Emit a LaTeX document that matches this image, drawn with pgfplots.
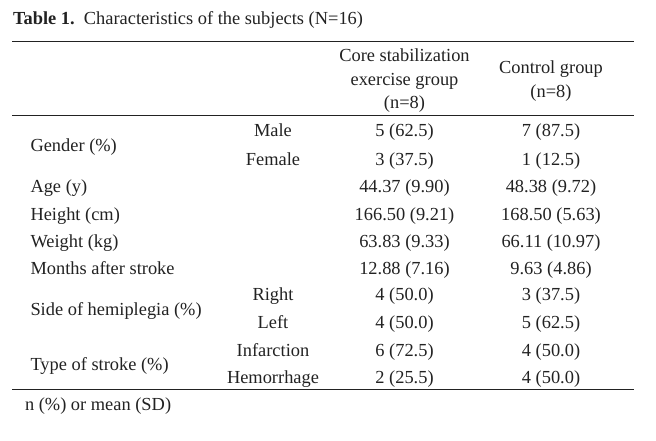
\documentclass[border=0pt]{standalone}
\usepackage{fontspec}
\setmainfont{Liberation Serif}
\usepackage{pgfplots}
\pgfplotsset{compat=1.18}
\definecolor{ink}{HTML}{222222}
\begin{document}
\fontsize{18.4bp}{22bp}\selectfont
\begin{tikzpicture}
\begin{axis}[
  hide axis, scale only axis, width=656bp, height=441bp,
  xmin=0, xmax=656, ymin=0, ymax=441, y dir=reverse, clip=false,
]
\path[fill=white] (axis cs:0,0) rectangle (axis cs:656,441);
\tikzset{every node/.style={inner sep=0pt, outer sep=0pt, text=ink}}
% title
\node[anchor=base west] at (axis cs:13,25) {\textbf{Table 1.}\hspace{0.5em}Characteristics of the subjects (N=16)};
% rules
\draw[ink, line width=1.1bp] (axis cs:12,41.7) -- (axis cs:634,41.7);
\draw[ink, line width=1.1bp] (axis cs:12,115.7) -- (axis cs:634,115.7);
\draw[ink, line width=1.1bp] (axis cs:12,389.3) -- (axis cs:634,389.3);
% header
\node[anchor=base] at (axis cs:404.5,62) {Core stabilization};
\node[anchor=base] at (axis cs:404.5,86) {exercise group};
\node[anchor=base] at (axis cs:404.5,108) {(n=8)};
\node[anchor=base] at (axis cs:551,74) {Control group};
\node[anchor=base] at (axis cs:551,97) {(n=8)};
% left labels
\node[anchor=base west] at (axis cs:30.5,151) {Gender (\%)};
\node[anchor=base west] at (axis cs:30.5,192.7) {Age (y)};
\node[anchor=base west] at (axis cs:30.5,220) {Height (cm)};
\node[anchor=base west] at (axis cs:30.5,247) {Weight (kg)};
\node[anchor=base west] at (axis cs:30.5,274) {Months after stroke};
\node[anchor=base west] at (axis cs:30.5,315) {Side of hemiplegia (\%)};
\node[anchor=base west] at (axis cs:30.5,370) {Type of stroke (\%)};
% sub labels
\node[anchor=base] at (axis cs:273,136.7) {Male};
\node[anchor=base] at (axis cs:273,165) {Female};
\node[anchor=base] at (axis cs:273,300.5) {Right};
\node[anchor=base] at (axis cs:273,328) {Left};
\node[anchor=base] at (axis cs:273,356) {Infarction};
\node[anchor=base] at (axis cs:273,383) {Hemorrhage};
% column 1
\node[anchor=base] at (axis cs:404.5,136.7) {5 (62.5)};
\node[anchor=base] at (axis cs:404.5,165) {3 (37.5)};
\node[anchor=base] at (axis cs:404.5,192.7) {44.37 (9.90)};
\node[anchor=base] at (axis cs:404.5,220) {166.50 (9.21)};
\node[anchor=base] at (axis cs:404.5,247) {63.83 (9.33)};
\node[anchor=base] at (axis cs:404.5,274) {12.88 (7.16)};
\node[anchor=base] at (axis cs:404.5,300.5) {4 (50.0)};
\node[anchor=base] at (axis cs:404.5,328) {4 (50.0)};
\node[anchor=base] at (axis cs:404.5,356) {6 (72.5)};
\node[anchor=base] at (axis cs:404.5,383) {2 (25.5)};
% column 2
\node[anchor=base] at (axis cs:551,136.7) {7 (87.5)};
\node[anchor=base] at (axis cs:551,165) {1 (12.5)};
\node[anchor=base] at (axis cs:551,192.7) {48.38 (9.72)};
\node[anchor=base] at (axis cs:551,220) {168.50 (5.63)};
\node[anchor=base] at (axis cs:551,247) {66.11 (10.97)};
\node[anchor=base] at (axis cs:551,274) {9.63 (4.86)};
\node[anchor=base] at (axis cs:551,300.5) {3 (37.5)};
\node[anchor=base] at (axis cs:551,328) {5 (62.5)};
\node[anchor=base] at (axis cs:551,356) {4 (50.0)};
\node[anchor=base] at (axis cs:551,383) {4 (50.0)};
% footnote
\node[anchor=base west] at (axis cs:25,410) {n (\%) or mean (SD)};
\end{axis}
\end{tikzpicture}
\end{document}
